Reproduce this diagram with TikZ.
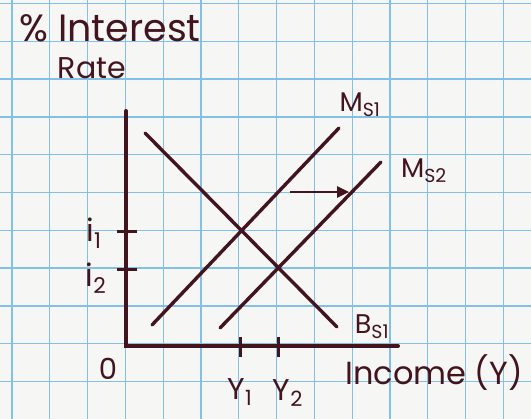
\documentclass[tikz,border=0pt]{standalone}
\usepackage{fontspec}
\setmainfont{Poppins}
\usetikzlibrary{arrows.meta}
\definecolor{paper}{RGB}{246,246,244}
\definecolor{gridblue}{RGB}{130,192,230}
\definecolor{ink}{RGB}{66,20,30}
\begin{document}
\begin{tikzpicture}[
  x=1pt, y=-1pt,
  gridline/.style={gridblue, line width=1.3pt},
  axis/.style={ink, line width=4pt, line cap=round},
  curve/.style={ink, line width=3.4pt, line cap=round},
  tick/.style={ink, line width=3pt},
  lbl/.style={text=ink, inner sep=0pt, font=\fontsize{27}{32}\selectfont}
]
  % === Foglio a quadretti ===
  \fill[paper] (0,0) rectangle (531,419);
  \useasboundingbox (0,0) rectangle (531,419);
  \foreach \k in {0,...,13} {
    \draw[gridline] (12+37.8*\k, 0) -- (12+37.8*\k, 419);
  }
  \foreach \k in {0,...,11} {
    \draw[gridline] (0, 3.5+37.8*\k) -- (531, 3.5+37.8*\k);
  }

  % === Assi ===
  \coordinate (o) at (126, 346);
  \coordinate (ytop) at (126, 111);
  \coordinate (xend) at (398, 346);
  \draw[axis] (ytop) -- (o) -- (xend);

  % Tacche sull'asse verticale
  \draw[tick] (117, 232) -- (137, 232);
  \draw[tick] (117, 270) -- (137, 270);
  % Tacche sull'asse orizzontale
  \draw[tick] (240, 337) -- (240, 357);
  \draw[tick] (278, 337) -- (278, 357);

  % === Curve ===
  \coordinate (bs1a) at (145, 133);
  \coordinate (bs1b) at (337, 327);
  \coordinate (ms1a) at (152, 325);
  \coordinate (ms1b) at (339, 128);
  \coordinate (ms2a) at (220, 328);
  \coordinate (ms2b) at (381, 162);
  \draw[curve] (bs1a) -- (bs1b);
  \draw[curve] (ms1a) -- (ms1b);
  \draw[curve] (ms2a) -- (ms2b);

  % Spostamento dell'offerta di moneta
  \coordinate (sh1) at (290, 192);
  \coordinate (sh2) at (349, 192);
  \draw[ink, line width=2.6pt, -{Triangle[length=12pt, width=11pt]}] (sh1) -- (sh2);

  % === Etichette ===
  \node[lbl, font=\fontsize{38}{44}\selectfont] (title) at (110, 28) {\% Interest};
  \node[lbl, font=\fontsize{30}{34}\selectfont] (rate) at (92, 68) {Rate};
  \node[lbl] (ms1) at (360, 105) {M\textsubscript{S1}};
  \node[lbl] (ms2) at (424, 171) {M\textsubscript{S2}};
  \node[lbl] (bs1) at (372, 327) {B\textsubscript{S1}};
  \node[lbl, font=\fontsize{32}{38}\selectfont] (income) at (434, 373) {Income (Y)};
  \node[lbl, font=\fontsize{29}{34}\selectfont] (zero) at (108, 369) {0};
  \node[lbl, font=\fontsize{31}{36}\selectfont] (i1) at (94, 233) {i\textsubscript{1}};
  \node[lbl, font=\fontsize{31}{36}\selectfont] (i2) at (96, 278) {i\textsubscript{2}};
  \node[lbl, font=\fontsize{30}{36}\selectfont] (y1) at (240, 392) {Y\textsubscript{1}};
  \node[lbl, font=\fontsize{30}{36}\selectfont] (y2) at (288, 393) {Y\textsubscript{2}};
\end{tikzpicture}
\end{document}
